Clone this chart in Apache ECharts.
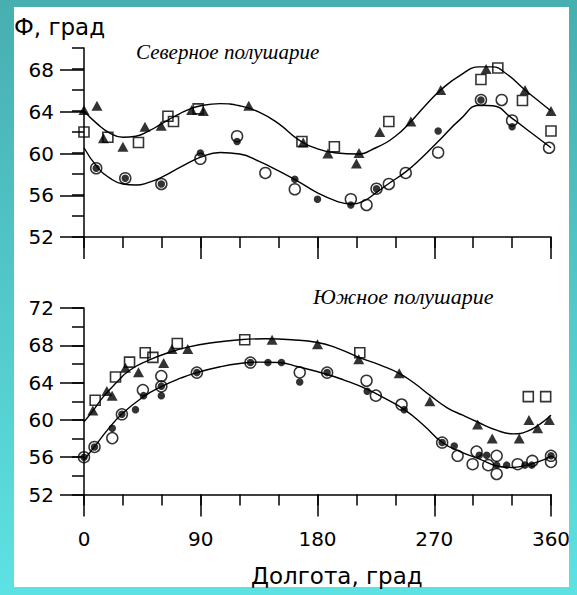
<!DOCTYPE html>
<html>
<head>
<meta charset="utf-8">
<script src="https://cdn.jsdelivr.net/npm/echarts@6/dist/echarts.min.js"></script>
<style>
html,body{margin:0;padding:0;}
body{width:577px;height:595px;position:relative;overflow:hidden;background:linear-gradient(to bottom,#47afb0 0%,#52c8c9 50%,#5de2e3 100%);}
#paper{position:absolute;left:14px;top:7px;width:555px;height:580px;background:#fff;}
#chart{position:absolute;left:0;top:0;width:577px;height:595px;}
</style>
</head>
<body>
<div id="paper"></div>
<div id="chart"></div>
<script>
// ---- Northern hemisphere (top panel) ----
const northTriangles = [[0,64.1],[10,64.5],[15,61.4],[30,60.6],[47,62.5],[59.5,62.6],[83,64.1],[92,64.0],[127,64.5],[169,61.0],[188,59.95],[210,59.0],[212,60.0],[228,62.0],[252,63.0],[275,66.0],[310,68.0],[340,66.0],[360,64.0]];
const northSquares = [[0,62.0],[18.4,61.5],[42,61.0],[64.7,63.5],[69,63.0],[88,64.2],[168,61.1],[193,60.6],[235,63.0],[306,67.0],[319,68.1],[338,65.0],[360,62.1]];
const northDots = [[9.4,58.55],[31.8,57.6],[59.6,57.05],[89.7,60.0],[118,61.1],[162.5,57.5],[180,55.6],[205.7,55.05],[225.5,56.6],[273,62.1],[306,65.05],[330,62.5]];
const northCircles = [[9.4,58.55],[31.8,57.6],[59.6,57.05],[89.7,59.45],[118,61.6],[139.8,58.1],[162.5,56.55],[205.7,55.6],[217.8,55.05],[225.5,56.6],[235,57.05],[248,58.1],[273,60.05],[306,65.05],[322,65.05],[330,63.1],[358.5,60.5]];
const northCurveUpper = [[0,64.0],[10,62.8],[20,61.9],[30,61.5],[40,61.6],[50,62.1],[60,62.8],[70,63.5],[80,64.1],[90,64.5],[105,64.7],[120,64.5],[135,63.9],[150,62.8],[165,61.3],[180,60.4],[195,60.0],[210,59.9],[225,60.5],[240,61.6],[252,63.0],[263,64.5],[275,66.0],[290,67.4],[305,68.2],[315,68.2],[325,67.6],[340,66.0],[350,65.0],[360,64.0]];
const northCurveLower = [[0,60.5],[10,58.7],[20,57.6],[30,57.05],[40,56.95],[50,57.2],[60,57.7],[75,58.7],[90,59.6],[105,60.05],[120,59.9],[135,59.2],[150,58.3],[165,57.3],[180,56.2],[195,55.4],[205,55.15],[215,55.4],[225,56.2],[235,57.1],[248,58.2],[260,59.5],[273,61.1],[290,63.2],[305,64.55],[315,64.5],[330,63.3],[345,61.9],[360,60.5]];

// ---- Southern hemisphere (bottom panel) ----
const southTriangles = [[6.8,61.0],[17.6,63.1],[21.7,62.6],[32,65.6],[42,65.1],[61.4,66.1],[67.8,67.6],[80,67.6],[145,68.6],[180,68.1],[211.8,66.5],[243,65.0],[266.6,62.0],[303.4,59.5],[314.7,58.0],[335.5,58.0],[343,60.0],[349.7,59.1],[358.7,60.0]];
const southSquares = [[8.6,62.1],[24.3,64.6],[35.1,66.2],[47.2,67.2],[53.1,66.7],[71.9,68.2],[123.9,68.6],[212.6,67.2],[342.5,62.5],[355.9,62.5]];
const southDots = [[0,56.0],[8.1,57.1],[21.8,59.1],[29.2,60.6],[39.7,61.1],[45.9,62.6],[59.6,63.6],[59.6,62.6],[87,65.07],[128.3,66.15],[141.8,66.15],[152.2,66.15],[166.3,64.07],[187.4,65.07],[218.3,63.07],[246.8,61.1],[276.1,57.57],[285.4,57.2],[304.7,56.2],[310.4,56.2],[318.1,55.15],[325.8,55.15],[339.9,55.15],[345.1,55.15],[360,56.15]];
const southCircles = [[0,56.0],[8.1,57.1],[21.8,58.05],[29.2,60.6],[45.4,63.2],[59.6,63.6],[59.6,64.7],[87,65.07],[128.3,66.15],[166.3,65.1],[187.4,65.07],[217.8,64.2],[225,62.6],[244.8,61.65],[276.1,57.57],[288,56.15],[299.6,55.25],[302.6,56.6],[311.6,55.15],[318.1,56.15],[318.1,54.2],[334.3,55.25],[345.6,55.6],[360,56.15],[360,55.5]];
const southCurveUpper = [[0,59.8],[7,61.0],[15,62.5],[25,64.0],[35,65.3],[50,66.4],[65,67.2],[80,67.8],[100,68.3],[120,68.6],[140,68.7],[160,68.6],[180,68.3],[195,67.7],[212,66.7],[228,65.9],[243,65.0],[255,63.9],[267,62.6],[280,61.3],[292,60.5],[303,59.8],[318,58.9],[331,58.5],[342,58.8],[352,59.6],[360,60.5]];
const southCurveLower = [[0,55.7],[8,57.1],[18,58.9],[29,60.6],[45,62.4],[60,63.6],[75,64.5],[87,65.07],[105,65.7],[120,66.05],[135,66.2],[150,66.15],[165,65.7],[187,64.9],[200,64.3],[218,63.3],[232,62.3],[247,61.1],[262,59.4],[276,57.6],[290,56.6],[305,55.8],[320,55.0],[330,54.9],[340,55.1],[350,55.5],[360,56.1]];

// ---- axis ticks / labels ----
const xTicks = [0, 90, 180, 270, 360];
const northYLabels = [52, 56, 60, 64, 68];
const southYLabels = [52, 56, 60, 64, 68, 72];
const yAxisTitle = 'Ф, град';
const xAxisTitle = 'Долгота, град';
const northTitle = 'Северное полушарие';
const southTitle = 'Южное полушарие';

const chart = echarts.init(document.getElementById('chart'), null, {renderer: 'svg'});
const black = '#000';
const axisLine = {show: true, onZero: false, lineStyle: {color: black, width: 1.5}};
const sansFont = '"DejaVu Sans", "Liberation Sans", Arial, sans-serif';
const serifFont = '"Liberation Serif", "Times New Roman", serif';

function xMinor(grid) {
  return {gridIndex: grid, type: 'value', position: 'bottom', min: 0, max: 360, interval: 30,
    axisLine: axisLine, axisTick: {show: true, length: 11, lineStyle: {color: black, width: 1.5}},
    axisLabel: {show: false}, splitLine: {show: false}};
}
function xMajor(grid, labels) {
  return {gridIndex: grid, type: 'value', position: 'bottom', min: xTicks[0], max: xTicks[xTicks.length-1], interval: 90,
    axisLine: {show: false, onZero: false}, axisTick: {show: true, length: 22, lineStyle: {color: black, width: 1.5}},
    axisLabel: {show: labels, margin: 34, color: black, fontSize: 20, fontFamily: sansFont},
    splitLine: {show: false}};
}
function yMinor(grid, min, max) {
  return {gridIndex: grid, type: 'value', position: 'left', min: min, max: max, interval: 2,
    axisLine: axisLine, axisTick: {show: true, length: 12, lineStyle: {color: black, width: 1.5}},
    axisLabel: {show: false}, splitLine: {show: false}};
}
function yMajor(grid, labels) {
  return {gridIndex: grid, type: 'value', position: 'left', min: labels[0], max: labels[labels.length-1], interval: 4,
    axisLine: {show: false, onZero: false}, axisTick: {show: true, length: 24, lineStyle: {color: black, width: 1.5}},
    axisLabel: {show: true, margin: 30, color: black, fontSize: 20, fontFamily: sansFont},
    splitLine: {show: false}};
}

function triSeries(data, xi, yi) {
  return {type: 'scatter', xAxisIndex: xi, yAxisIndex: yi, data: data, symbol: 'triangle', symbolSize: [11, 10],
    itemStyle: {color: black}, clip: false, silent: true};
}
function squareSeries(data, xi, yi) {
  return {type: 'scatter', xAxisIndex: xi, yAxisIndex: yi, data: data, symbol: 'rect', symbolSize: 10,
    itemStyle: {color: 'rgba(0,0,0,0)', borderColor: black, borderWidth: 1.6}, clip: false, silent: true};
}
function circleSeries(data, xi, yi) {
  return {type: 'scatter', xAxisIndex: xi, yAxisIndex: yi, data: data, symbol: 'circle', symbolSize: 11,
    itemStyle: {color: 'rgba(0,0,0,0)', borderColor: black, borderWidth: 1.5}, clip: false, silent: true};
}
function dotSeries(data, xi, yi) {
  return {type: 'scatter', xAxisIndex: xi, yAxisIndex: yi, data: data, symbol: 'circle', symbolSize: 7.5,
    itemStyle: {color: black}, clip: false, silent: true};
}
function curveSeries(data, xi, yi) {
  return {type: 'line', xAxisIndex: xi, yAxisIndex: yi, data: data, smooth: 0.5, symbol: 'none',
    lineStyle: {color: black, width: 1.4}, silent: true, clip: false};
}

const option = {
  animation: false,
  backgroundColor: 'transparent',
  grid: [
    {left: 84, top: 48, width: 467, height: 189, outerBoundsMode: 'none', containLabel: false},
    {left: 84, top: 70, width: 467, height: 167, outerBoundsMode: 'none', containLabel: false},
    {left: 84, top: 308, width: 467, height: 186.5, outerBoundsMode: 'none', containLabel: false}
  ],
  xAxis: [
    xMinor(0), xMajor(0, false),
    {gridIndex: 1, type: 'value', min: 0, max: 360, show: false},
    xMinor(2), xMajor(2, true)
  ],
  yAxis: [
    yMinor(0, 52, 70),
    yMajor(1, northYLabels),
    yMinor(2, 52, 72),
    yMajor(2, southYLabels)
  ],
  graphic: [
    {type: 'text', left: 14, top: 15, style: {text: yAxisTitle, font: '23px ' + sansFont, fill: black}},
    {type: 'text', left: 136, top: 41, style: {text: northTitle, font: 'italic 21px ' + serifFont, fill: black}},
    {type: 'text', left: 313, top: 285, style: {text: southTitle, font: 'italic 22px ' + serifFont, fill: black}},
    {type: 'text', left: 251, top: 564, style: {text: xAxisTitle, font: '23px ' + sansFont, fill: black}}
  ],
  series: [
    curveSeries(northCurveUpper, 0, 0),
    curveSeries(northCurveLower, 0, 0),
    triSeries(northTriangles, 0, 0),
    squareSeries(northSquares, 0, 0),
    circleSeries(northCircles, 0, 0),
    dotSeries(northDots, 0, 0),
    curveSeries(southCurveUpper, 3, 2),
    curveSeries(southCurveLower, 3, 2),
    triSeries(southTriangles, 3, 2),
    squareSeries(southSquares, 3, 2),
    circleSeries(southCircles, 3, 2),
    dotSeries(southDots, 3, 2)
  ]
};
chart.setOption(option);
</script>
</body>
</html>
